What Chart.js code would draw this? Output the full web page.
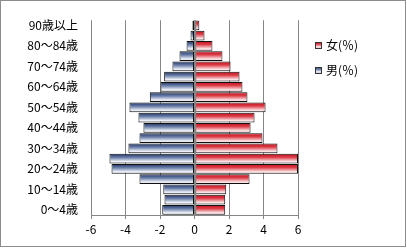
<!DOCTYPE html>
<html><head><meta charset="utf-8">
<script src="https://cdn.jsdelivr.net/npm/chart.js@4/dist/chart.umd.min.js"></script>
<style>html,body{margin:0;padding:0;background:#fff}canvas{display:block}</style>
</head><body>
<canvas id="c" width="407" height="249"></canvas>
<script>
const categories = ['0～4歳','5～9歳','10～14歳','15～19歳','20～24歳','25～29歳','30～34歳','35～39歳','40～44歳','45～49歳','50～54歳','55～59歳','60～64歳','65～69歳','70～74歳','75～79歳','80～84歳','85～89歳','90歳以上'];
const femalePct = [1.78,1.78,1.84,3.19,6.0,6.0,4.81,3.94,3.25,3.48,4.12,3.07,2.78,2.61,2.09,1.62,1.04,0.58,0.28];
const malePct   = [1.87,1.74,1.81,3.19,4.81,4.93,3.83,3.19,2.96,3.25,3.77,2.59,1.97,1.76,1.28,0.87,0.46,0.23,0.12];
const xTicks = [-6,-4,-2,0,2,4,6];
const seriesNames = ['女(％)','男(％)'];

const redStops = [[0,'#c40f1c'],[0.35,'#dc3a45'],[0.8,'#fbe4e6'],[1,'#f1c9cc']];
const blueStops = [[0,'#1b3163'],[0.4,'#6d81ab'],[0.8,'#eef1f7'],[1,'#c8d1e3']];
const FONT = '"Noto Sans CJK JP","Noto Sans",sans-serif';
const BAR_PCT = 0.94;

function grad(stops){
  return (ctx) => {
    const chart = ctx.chart; const ys = chart.scales && chart.scales.y;
    if (!ys || ctx.dataIndex === undefined || !chart.chartArea) return stops[1][1];
    const c = ys.getPixelForValue(ctx.dataIndex);
    const step = Math.abs(ys.getPixelForValue(1) - ys.getPixelForValue(0));
    const h = step * BAR_PCT;
    const g = chart.ctx.createLinearGradient(0, c - h/2, 0, c + h/2);
    stops.forEach(([o,col]) => g.addColorStop(o,col));
    return g;
  };
}

const decor = {
  id:'decor',
  afterDatasetsDraw(chart){
    const {ctx, chartArea:a, scales:{x}} = chart;
    const zx = Math.round(x.getPixelForValue(0)) + 0.5;
    ctx.save();
    ctx.strokeStyle = '#868686'; ctx.lineWidth = 1.5;
    ctx.beginPath(); ctx.moveTo(zx, a.top); ctx.lineTo(zx, a.bottom); ctx.stroke();
    ctx.restore();
  },
  afterDraw(chart){
    const ctx = chart.ctx;
    ctx.save();
    ctx.strokeStyle = '#8c8c8c'; ctx.lineWidth = 1;
    ctx.strokeRect(0.5, 0.5, 405, 246);
    const items = [[seriesNames[0], redStops, 45], [seriesNames[1], blueStops, 70]];
    items.forEach(([t, st, cy]) => {
      const g = ctx.createLinearGradient(0, cy-3, 0, cy+3);
      st.forEach(([o,col]) => g.addColorStop(o,col));
      ctx.fillStyle = g; ctx.fillRect(315.5, cy-2.5, 6, 6);
      ctx.strokeStyle = '#333'; ctx.strokeRect(315.5, cy-2.5, 6, 6);
      ctx.fillStyle = '#000'; ctx.font = '12px ' + FONT; ctx.textBaseline = 'middle';
      ctx.fillText(t, 326, cy);
    });
    ctx.restore();
  }
};

new Chart(document.getElementById('c'), {
  type:'bar',
  data:{
    labels: categories,
    datasets:[
      {label: seriesNames[1], data: malePct.map(v => -v), backgroundColor: grad(blueStops), borderColor:'#111', borderWidth:1, borderSkipped:false, barPercentage:BAR_PCT, categoryPercentage:1},
      {label: seriesNames[0], data: femalePct, backgroundColor: grad(redStops), borderColor:'#111', borderWidth:1, borderSkipped:false, barPercentage:BAR_PCT, categoryPercentage:1}
    ]
  },
  options:{
    indexAxis:'y', responsive:false, animation:false,
    layout:{padding:{left:0, right:109, top:10, bottom:0}},
    plugins:{legend:{display:false}, tooltip:{enabled:false}},
    scales:{
      x:{stacked:true, min:-6, max:6,
        afterBuildTicks(s){ s.ticks = xTicks.map(v => ({value:v})); },
        afterFit(s){ s.height = 34; },
        grid:{color:'#868686', lineWidth:1, drawTicks:true, tickLength:4, tickColor:'#868686'},
        border:{display:true, color:'#868686'},
        ticks:{color:'#000', font:{size:12, family:FONT}, padding:3}
      },
      y:{stacked:true, reverse:true,
        afterFit(s){ s.width = 91; },
        grid:{display:false, drawTicks:false},
        border:{display:false},
        ticks:{autoSkip:false, padding:13, color:'#000', font:{size:12, family:FONT},
          callback(v, i){ return i % 2 === 0 ? categories[i] : ''; }}
      }
    }
  },
  plugins:[decor]
});
</script>
</body></html>
